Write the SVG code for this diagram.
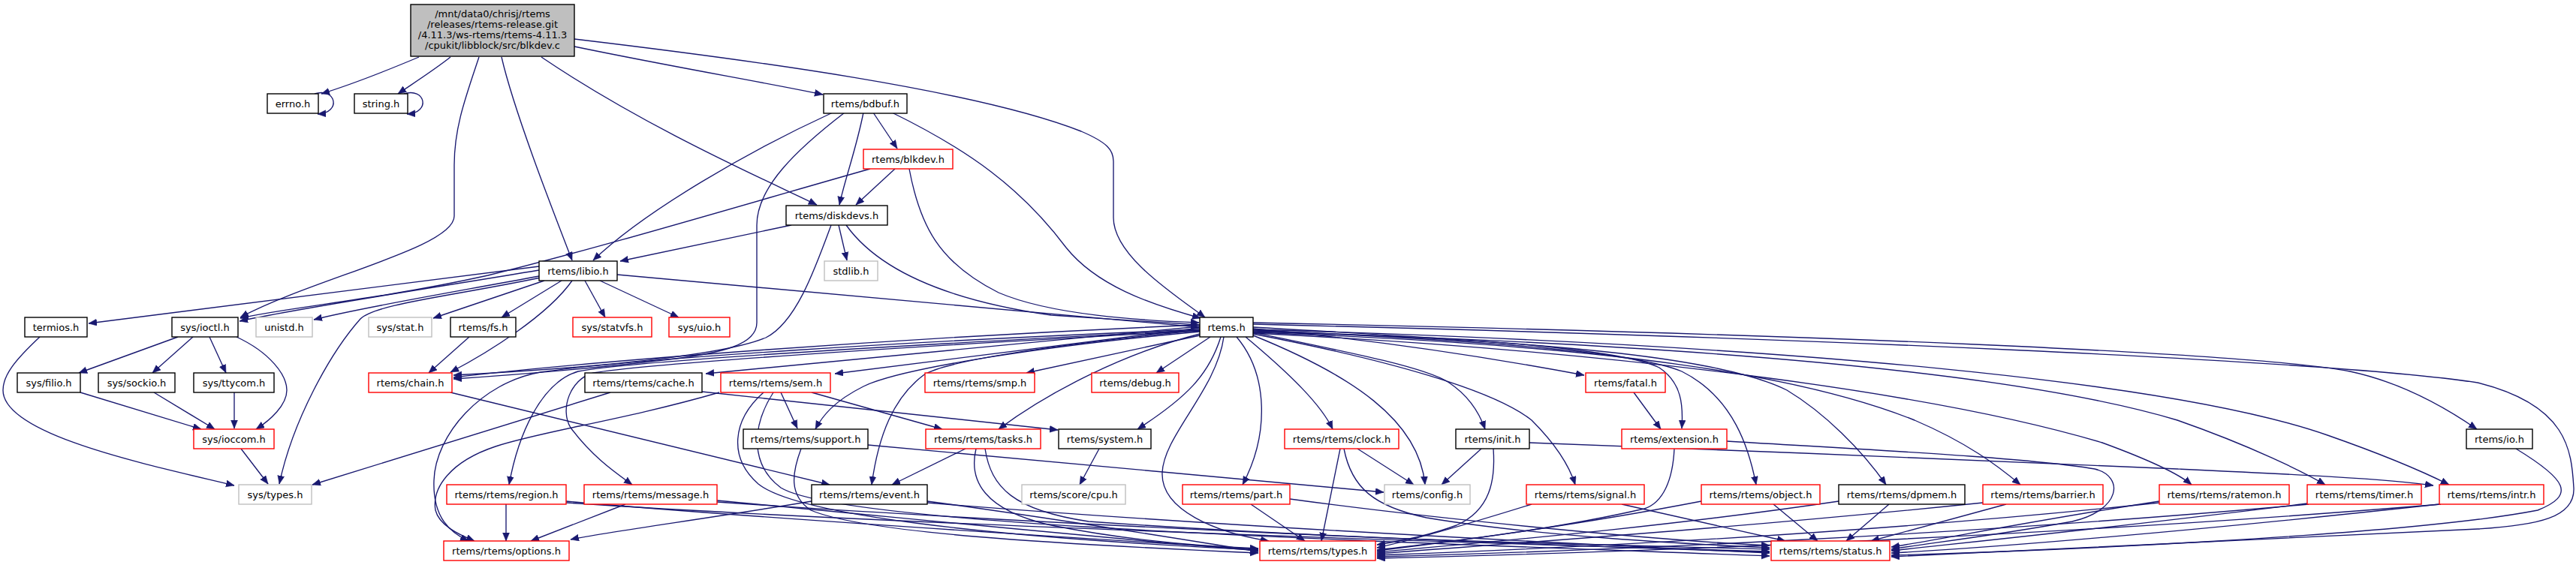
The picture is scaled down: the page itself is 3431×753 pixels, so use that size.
<svg xmlns="http://www.w3.org/2000/svg" width="3431" height="753" viewBox="0 0 3431 753">
<style>
.n rect{fill:#fff;stroke-width:1.4}
.k rect{stroke:#000}
.r rect{stroke:#ff0000}
.g rect{stroke:#bfbfbf}
.t rect{fill:#bfbfbf;stroke:#000}
text{font-family:"DejaVu Sans","Liberation Sans",sans-serif;font-size:13px;text-anchor:middle;fill:#000}
#edges path{fill:none;stroke:#191970;stroke-width:1.35;marker-end:url(#ah)}
</style>
<defs>
<marker id="ah" markerUnits="userSpaceOnUse" markerWidth="12" markerHeight="10" refX="11" refY="4.5" orient="auto">
<path d="M0,0 L11,4.5 L0,9 z" fill="#191970" stroke="#191970" stroke-width="0.5"/>
</marker>
</defs>
<rect width="3431" height="753" fill="#fff"/>
<g id="edges">
<path d="M558,76 C520,92 470,112 428,125"/>
<path d="M600,76 C580,92 552,110 530,125"/>
<path d="M419,125 C447,116 456,150 423,152"/>
<path d="M538,125 C566,116 575,150 542,152"/>
<path d="M638,76 C620,130 605,170 605,220 L605,288 C605,330 420,370 320,423"/>
<path d="M668,76 C685,150 740,290 762,347"/>
<path d="M721,76 C860,170 1020,240 1088,273"/>
<path d="M765,62 C900,90 1020,110 1096,126"/>
<path d="M765,52 C1000,80 1300,120 1440,175 C1475,190 1483,200 1483,215 L1483,290 C1483,340 1560,390 1605,423"/>
<path d="M1109,150 C1000,200 860,280 790,347"/>
<path d="M1125,150 C1060,200 1008,250 1008,300 L1008,430 C1008,460 960,470 900,478 C800,490 680,500 604,505"/>
<path d="M1150,150 C1140,200 1125,240 1118,273"/>
<path d="M1163,150 L1195,198"/>
<path d="M1188,150 C1290,200 1360,250 1420,330 C1460,380 1530,405 1599,424"/>
<path d="M1159,225 C1000,270 800,330 650,367 C500,400 380,410 320,424"/>
<path d="M1192,225 L1140,273"/>
<path d="M1211,225 C1225,300 1250,350 1330,390 C1400,420 1520,427 1597,430"/>
<path d="M1054,300 L826,348"/>
<path d="M1107,300 C1085,360 1060,430 1020,450 C950,480 700,495 604,500"/>
<path d="M1117,300 L1128,347"/>
<path d="M1127,300 C1170,360 1260,400 1400,420 L1597,433"/>
<path d="M822,366 L1597,436"/>
<path d="M718,355 L118,431"/>
<path d="M718,360 C600,380 400,410 319,428"/>
<path d="M718,368 C600,390 480,410 418,426"/>
<path d="M725,374 L577,424"/>
<path d="M748,374 L668,423"/>
<path d="M762,374 C730,420 650,470 600,496"/>
<path d="M779,374 L806,423"/>
<path d="M799,374 L904,423"/>
<path d="M720,370 C600,395 500,405 480,425 C440,470 390,560 372,645"/>
<path d="M53,449 C20,480 4,500 4,520 C4,580 200,620 312,647"/>
<path d="M237,449 L105,497"/>
<path d="M257,449 L203,497"/>
<path d="M279,449 L301,497"/>
<path d="M315,449 C360,470 382,500 382,520 C382,540 360,560 341,572"/>
<path d="M107,523 L268,572"/>
<path d="M205,523 L286,572"/>
<path d="M312,523 L312,571"/>
<path d="M321,598 L357,645"/>
<path d="M625,449 L571,497"/>
<path d="M600,523 L1105,646"/>
<path d="M813,523 L416,646"/>
<path d="M935,522 L1409,573"/>
<path d="M1040,523 L1062,571"/>
<path d="M1081,523 L1255,572"/>
<path d="M958,523 C830,560 720,575 660,595 C600,615 575,650 580,680 C585,700 610,712 632,721"/>
<path d="M1017,523 C975,560 970,610 1010,645 C1060,685 1300,715 1676,733"/>
<path d="M1030,523 C1000,570 1000,620 1040,650 C1120,700 1800,720 2357,741"/>
<path d="M1067,598 C1055,630 1050,660 1080,680 C1150,710 1400,725 1676,737"/>
<path d="M1156,593 L1843,656"/>
<path d="M1286,598 L1188,646"/>
<path d="M1300,598 C1290,640 1310,680 1400,700 C1500,720 1600,728 1676,731"/>
<path d="M1312,598 C1320,650 1350,680 1450,695 C1800,720 2100,725 2357,732"/>
<path d="M1669,438 C1800,450 1950,470 2110,500"/>
<path d="M2176,523 L2212,572"/>
<path d="M1669,436 C1900,450 2150,460 2210,490 C2240,510 2242,540 2240,571"/>
<path d="M2230,598 C2228,640 2215,670 2190,678 C2050,710 1900,725 1834,733"/>
<path d="M2300,588 C2500,600 2700,610 2790,625 C2830,635 2825,680 2760,695 C2650,715 2560,725 2519,732"/>
<path d="M2037,590 C2300,600 2700,615 2900,625 C3050,632 3180,638 3241,647"/>
<path d="M1973,598 L1920,646"/>
<path d="M1989,598 C1992,640 1985,680 1940,700 C1900,715 1860,722 1834,726"/>
<path d="M1808,598 L1883,646"/>
<path d="M1785,598 L1760,721"/>
<path d="M1790,598 C1800,650 1830,675 1900,690 C2050,715 2250,725 2357,730"/>
<path d="M1666,672 L1738,721"/>
<path d="M1718,665 C1900,690 2200,720 2357,727"/>
<path d="M1464,598 L1438,646"/>
<path d="M1630,449 C1620,520 1550,580 1548,630 C1546,680 1620,710 1690,721"/>
<path d="M1647,449 C1690,500 1690,580 1655,646"/>
<path d="M1659,449 C1720,500 1760,540 1775,572"/>
<path d="M1669,447 C1800,500 1890,560 1898,646"/>
<path d="M1669,443 C1800,470 1900,490 1930,510 C1960,530 1972,555 1978,572"/>
<path d="M1612,449 L1540,497"/>
<path d="M1598,447 L1367,497"/>
<path d="M1626,449 C1610,500 1580,530 1515,572"/>
<path d="M1598,445 C1500,470 1400,520 1330,572"/>
<path d="M1598,442 C1400,460 1200,490 1150,515 C1110,535 1095,555 1086,572"/>
<path d="M1598,440 C1400,460 1260,480 1230,500 C1190,530 1170,580 1161,646"/>
<path d="M1598,437 L1112,498"/>
<path d="M1598,435 L940,498"/>
<path d="M1598,433 C1200,450 800,480 604,503"/>
<path d="M1598,440 C1200,460 850,480 770,495 C720,510 690,580 678,646"/>
<path d="M1598,441 C1200,462 860,485 790,497 C760,505 745,545 760,570 C790,610 820,630 842,646"/>
<path d="M1598,439 C1200,455 850,478 720,496 C640,510 580,580 578,640 C576,690 600,710 624,721"/>
<path d="M674,672 L674,721"/>
<path d="M754,668 C1000,690 1400,715 1676,732"/>
<path d="M754,670 C1200,700 2000,725 2357,735"/>
<path d="M833,672 L707,721"/>
<path d="M955,667 C1200,690 1500,720 1676,734"/>
<path d="M955,669 C1400,700 2000,725 2357,736"/>
<path d="M1081,668 C950,690 800,710 760,719"/>
<path d="M1235,668 C1400,690 1550,715 1676,735"/>
<path d="M1235,670 C1600,700 2100,725 2357,737"/>
<path d="M2040,672 C1950,700 1880,720 1834,730"/>
<path d="M2160,672 L2378,721"/>
<path d="M2266,668 C2100,700 1950,720 1834,734"/>
<path d="M2362,672 L2421,721"/>
<path d="M2449,668 C2200,705 1950,725 1834,736"/>
<path d="M2516,672 L2459,721"/>
<path d="M2672,672 L2492,721"/>
<path d="M2641,670 C2300,705 2000,725 1834,738"/>
<path d="M2876,668 C2700,695 2580,720 2519,729"/>
<path d="M2876,670 C2500,710 2100,730 1834,740"/>
<path d="M3073,671 C2800,705 2600,725 2519,734"/>
<path d="M3075,672 C2600,715 2100,735 1834,742"/>
<path d="M3249,672 C2900,710 2650,730 2519,737"/>
<path d="M3251,672 C2700,718 2100,738 1834,744"/>
<path d="M3351,598 C3420,640 3430,660 3380,680 C3200,715 2700,735 2519,740"/>
<path d="M1669,432 C2400,450 3100,480 3300,510 C3420,540 3425,600 3428,650 C3430,690 3380,700 3300,705 C3000,720 2700,735 2519,742"/>
<path d="M1669,430 C2400,445 3000,470 3130,495 C3200,510 3260,545 3299,572"/>
<path d="M1669,445 C1850,480 1990,520 2040,560 C2070,590 2090,620 2098,646"/>
<path d="M1669,440 C2000,455 2180,470 2240,495 C2310,530 2330,600 2339,646"/>
<path d="M1669,441 C2100,455 2300,480 2380,520 C2430,550 2480,600 2512,646"/>
<path d="M1669,443 C2150,460 2400,500 2550,560 C2620,590 2660,620 2691,646"/>
<path d="M1669,444 C2200,470 2600,530 2800,590 C2860,612 2900,630 2919,646"/>
<path d="M1669,442 C2300,460 2700,500 2900,560 C3000,595 3070,630 3097,646"/>
<path d="M1669,439 C2400,460 2900,510 3100,580 C3180,608 3230,630 3262,646"/>
</g>
<g id="n_blkdev_c" class="n t"><rect x="547" y="6" width="218" height="69"/><text x="656" y="23">/mnt/data0/chrisj/rtems</text><text x="656" y="37">/releases/rtems-release.git</text><text x="656" y="51">/4.11.3/ws-rtems/rtems-4.11.3</text><text x="656" y="65">/cpukit/libblock/src/blkdev.c</text></g>
<g id="n_errno" class="n k"><rect x="356" y="125" width="68" height="26"/><text x="390" y="142.5">errno.h</text></g>
<g id="n_string" class="n k"><rect x="472" y="125" width="71" height="26"/><text x="507.5" y="142.5">string.h</text></g>
<g id="n_bdbuf" class="n k"><rect x="1097" y="125" width="111" height="26"/><text x="1152.5" y="142.5">rtems/bdbuf.h</text></g>
<g id="n_blkdev" class="n r"><rect x="1150" y="199" width="119" height="26"/><text x="1209.5" y="216.5">rtems/blkdev.h</text></g>
<g id="n_diskdevs" class="n k"><rect x="1047" y="274" width="135" height="26"/><text x="1114.5" y="291.5">rtems/diskdevs.h</text></g>
<g id="n_libio" class="n k"><rect x="718" y="348" width="104" height="26"/><text x="770" y="365.5">rtems/libio.h</text></g>
<g id="n_stdlib" class="n g"><rect x="1098" y="348" width="71" height="26"/><text x="1133.5" y="365.5">stdlib.h</text></g>
<g id="n_termios" class="n k"><rect x="33" y="423" width="83" height="26"/><text x="74.5" y="440.5">termios.h</text></g>
<g id="n_ioctl" class="n k"><rect x="229" y="423" width="88" height="26"/><text x="273" y="440.5">sys/ioctl.h</text></g>
<g id="n_unistd" class="n g"><rect x="341" y="423" width="75" height="26"/><text x="378.5" y="440.5">unistd.h</text></g>
<g id="n_stat" class="n g"><rect x="491" y="423" width="84" height="26"/><text x="533" y="440.5">sys/stat.h</text></g>
<g id="n_fs" class="n k"><rect x="600" y="423" width="87" height="26"/><text x="643.5" y="440.5">rtems/fs.h</text></g>
<g id="n_statvfs" class="n r"><rect x="763" y="423" width="105" height="26"/><text x="815.5" y="440.5">sys/statvfs.h</text></g>
<g id="n_uio" class="n r"><rect x="891" y="423" width="81" height="26"/><text x="931.5" y="440.5">sys/uio.h</text></g>
<g id="n_rtems" class="n k"><rect x="1598" y="423" width="71" height="26"/><text x="1633.5" y="440.5">rtems.h</text></g>
<g id="n_filio" class="n k"><rect x="23" y="497" width="84" height="26"/><text x="65" y="514.5">sys/filio.h</text></g>
<g id="n_sockio" class="n k"><rect x="131" y="497" width="102" height="26"/><text x="182" y="514.5">sys/sockio.h</text></g>
<g id="n_ttycom" class="n k"><rect x="258" y="497" width="107" height="26"/><text x="311.5" y="514.5">sys/ttycom.h</text></g>
<g id="n_chain" class="n r"><rect x="491" y="497" width="111" height="26"/><text x="546.5" y="514.5">rtems/chain.h</text></g>
<g id="n_cache" class="n k"><rect x="779" y="497" width="156" height="26"/><text x="857" y="514.5">rtems/rtems/cache.h</text></g>
<g id="n_sem" class="n r"><rect x="960" y="497" width="146" height="26"/><text x="1033" y="514.5">rtems/rtems/sem.h</text></g>
<g id="n_smp" class="n r"><rect x="1232" y="497" width="146" height="26"/><text x="1305" y="514.5">rtems/rtems/smp.h</text></g>
<g id="n_debug" class="n r"><rect x="1454" y="497" width="116" height="26"/><text x="1512" y="514.5">rtems/debug.h</text></g>
<g id="n_fatal" class="n r"><rect x="2112" y="497" width="106" height="26"/><text x="2165" y="514.5">rtems/fatal.h</text></g>
<g id="n_ioccom" class="n r"><rect x="258" y="572" width="107" height="26"/><text x="311.5" y="589.5">sys/ioccom.h</text></g>
<g id="n_support" class="n k"><rect x="990" y="572" width="166" height="26"/><text x="1073" y="589.5">rtems/rtems/support.h</text></g>
<g id="n_tasks" class="n r"><rect x="1233" y="572" width="153" height="26"/><text x="1309.5" y="589.5">rtems/rtems/tasks.h</text></g>
<g id="n_system" class="n k"><rect x="1410" y="572" width="123" height="26"/><text x="1471.5" y="589.5">rtems/system.h</text></g>
<g id="n_clock" class="n r"><rect x="1711" y="572" width="152" height="26"/><text x="1787" y="589.5">rtems/rtems/clock.h</text></g>
<g id="n_init" class="n k"><rect x="1939" y="572" width="98" height="26"/><text x="1988" y="589.5">rtems/init.h</text></g>
<g id="n_extension" class="n r"><rect x="2160" y="572" width="140" height="26"/><text x="2230" y="589.5">rtems/extension.h</text></g>
<g id="n_io" class="n k"><rect x="3285" y="572" width="88" height="26"/><text x="3329" y="589.5">rtems/io.h</text></g>
<g id="n_systypes" class="n g"><rect x="318" y="646" width="97" height="26"/><text x="366.5" y="663.5">sys/types.h</text></g>
<g id="n_region" class="n r"><rect x="595" y="646" width="159" height="26"/><text x="674.5" y="663.5">rtems/rtems/region.h</text></g>
<g id="n_message" class="n r"><rect x="778" y="646" width="177" height="26"/><text x="866.5" y="663.5">rtems/rtems/message.h</text></g>
<g id="n_event" class="n k"><rect x="1081" y="646" width="154" height="26"/><text x="1158" y="663.5">rtems/rtems/event.h</text></g>
<g id="n_cpu" class="n g"><rect x="1361" y="646" width="138" height="26"/><text x="1430" y="663.5">rtems/score/cpu.h</text></g>
<g id="n_part" class="n r"><rect x="1575" y="646" width="143" height="26"/><text x="1646.5" y="663.5">rtems/rtems/part.h</text></g>
<g id="n_config" class="n g"><rect x="1844" y="646" width="114" height="26"/><text x="1901" y="663.5">rtems/config.h</text></g>
<g id="n_signal" class="n r"><rect x="2033" y="646" width="157" height="26"/><text x="2111.5" y="663.5">rtems/rtems/signal.h</text></g>
<g id="n_object" class="n r"><rect x="2266" y="646" width="158" height="26"/><text x="2345" y="663.5">rtems/rtems/object.h</text></g>
<g id="n_dpmem" class="n k"><rect x="2449" y="646" width="168" height="26"/><text x="2533" y="663.5">rtems/rtems/dpmem.h</text></g>
<g id="n_barrier" class="n r"><rect x="2641" y="646" width="160" height="26"/><text x="2721" y="663.5">rtems/rtems/barrier.h</text></g>
<g id="n_ratemon" class="n r"><rect x="2876" y="646" width="173" height="26"/><text x="2962.5" y="663.5">rtems/rtems/ratemon.h</text></g>
<g id="n_timer" class="n r"><rect x="3073" y="646" width="152" height="26"/><text x="3149" y="663.5">rtems/rtems/timer.h</text></g>
<g id="n_intr" class="n r"><rect x="3249" y="646" width="139" height="26"/><text x="3318.5" y="663.5">rtems/rtems/intr.h</text></g>
<g id="n_options" class="n r"><rect x="591" y="721" width="167" height="26"/><text x="674.5" y="738.5">rtems/rtems/options.h</text></g>
<g id="n_types" class="n r"><rect x="1678" y="721" width="154" height="26"/><text x="1755" y="738.5">rtems/rtems/types.h</text></g>
<g id="n_status" class="n r"><rect x="2359" y="721" width="158" height="26"/><text x="2438" y="738.5">rtems/rtems/status.h</text></g>
</svg>
